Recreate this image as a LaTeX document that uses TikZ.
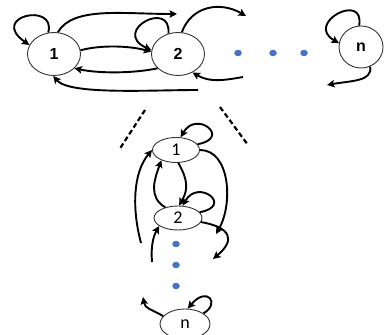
\documentclass[tikz,border=0pt]{standalone}
\usepackage{fontspec}
\setmainfont{Liberation Sans}
\newfontfamily\calfont{Carlito}
\usetikzlibrary{shapes.geometric}
\usetikzlibrary{arrows.meta}
\definecolor{dotblue}{RGB}{68,114,196}
\tikzset{
  hstate/.style= {draw=black!80, ellipse, line width=0.9pt, inner sep=0,
    minimum width=53pt, minimum height=43pt,
    font=\fontsize{16}{16}\selectfont\bfseries},
  vstate/.style= {draw=black!80, ellipse, line width=0.9pt, inner sep=0,
    minimum width=47pt, minimum height=25pt,
    font=\calfont\fontsize{18}{18}\selectfont},
  arc/.style= {line width=1.9pt, -{Stealth[length=7.5pt,width=7.5pt,inset=1.5pt]}},
  dot/.style= {ellipse, fill=dotblue, inner sep=0, minimum width=7.5pt, minimum height=6.5pt},
  gap/.style= {line width=2.2pt, dash pattern=on 5pt off 3pt},
}

\begin{document}
\begin{tikzpicture}[x=1pt, y=1pt]
  \useasboundingbox (0,0) rectangle (387,334);
  \clip (0,0) rectangle (387,334);

  % chain of states
  \node [hstate] (a1) at (54,280) {1} ;
  \node [hstate] (a2) at (178,280) {2} ;
  \node [hstate, minimum width=44pt, minimum height=42pt] (an) at (361,287) {n} ;
  \node [dot] (d1) at (238,281) {} ;
  \node [dot] (d2) at (273,281) {} ;
  \node [dot] (d3) at (304,281) {} ;

  % free ends
  \coordinate (e1) at (177,320) ;
  \coordinate (e2) at (198,244) ;
  \coordinate (e3) at (246,318) ;
  \coordinate (e4) at (243,257) ;
  \coordinate (e5) at (327,249) ;

  \draw [arc] (a1.105) to [out=75, in=145, out distance=32pt, in distance=50pt] (a1.160) ;
  \draw [arc] (a1.80) to [out=60, in=180, out distance=30pt, in distance=55pt] (e1) ;
  \draw [arc] (a1.8) to [out=15, in=165, distance=22pt] (a2.175) ;
  \draw [arc] (a2.215) to [out=192, in=-12, distance=25pt] (a1.325) ;
  \draw [arc] (e2) to [out=180, in=-50, out distance=48pt, in distance=25pt] (a1.268) ;
  \draw [arc] (a2.115) to [out=85, in=155, out distance=35pt, in distance=45pt] (a2.172) ;
  \draw [arc] (a2.80) to [out=70, in=150, out distance=28pt, in distance=30pt] (e3) ;
  \draw [arc] (e4) to [out=190, in=-30, distance=20pt] (a2.308) ;
  \draw [arc] (an.95) to [out=80, in=150, out distance=35pt, in distance=40pt] (an.170) ;
  \draw [arc] (an.295) to [out=-80, in=10, out distance=15pt, in distance=25pt] (e5) ;

  \draw [gap] (145,224) -- (119,184) ;
  \draw [gap] (220,227) -- (248,189) ;

  % expanded column
  \node [vstate] (b1) at (176,184) {1} ;
  \node [vstate, minimum width=48pt, minimum height=24pt] (b2) at (178,116) {2} ;
  \node [vstate, minimum width=50pt, minimum height=30pt] (bn) at (185,10) {n} ;
  \node [dot] (d4) at (176,90) {} ;
  \node [dot] (d5) at (176,69) {} ;
  \node [dot] (d6) at (176,48) {} ;

  \coordinate (e6) at (141,91) ;
  \coordinate (e7) at (216,100) ;
  \coordinate (e8) at (213,75) ;
  \coordinate (e9) at (152,72) ;
  \coordinate (e10) at (143,37) ;

  \draw [arc] (b1.15) to [out=10, in=60, out distance=35pt, in distance=32pt] (b1.70) ;
  \draw [arc] (b2.15) to [out=10, in=60, out distance=35pt, in distance=32pt] (b2.70) ;
  \draw [arc] (b2.140) to [out=150, in=-110, distance=20pt] (b1.215) ;
  \draw [arc] (b1.280) to [out=-60, in=60, out distance=20pt, in distance=18pt] (b2.85) ;
  \draw [arc] (e6) to [out=105, in=230, out distance=35pt, in distance=30pt] (b1.180) ;
  \draw [arc] (b1.0) to [out=0, in=60, out distance=30pt, in distance=35pt] (e7) ;
  \draw [arc] (b2.350) to [out=-10, in=40, distance=30pt] (e8) ;
  \draw [arc] (e9) to [out=95, in=-120, out distance=15pt, in distance=12pt] (b2.203) ;
  \draw [arc] (bn.160) to [out=150, in=-80, out distance=15pt, in distance=12pt] (e10) ;
  \draw [arc] (bn.30) to [out=30, in=50, out distance=20pt, in distance=30pt] (bn.80) ;
\end{tikzpicture}
\end{document}
